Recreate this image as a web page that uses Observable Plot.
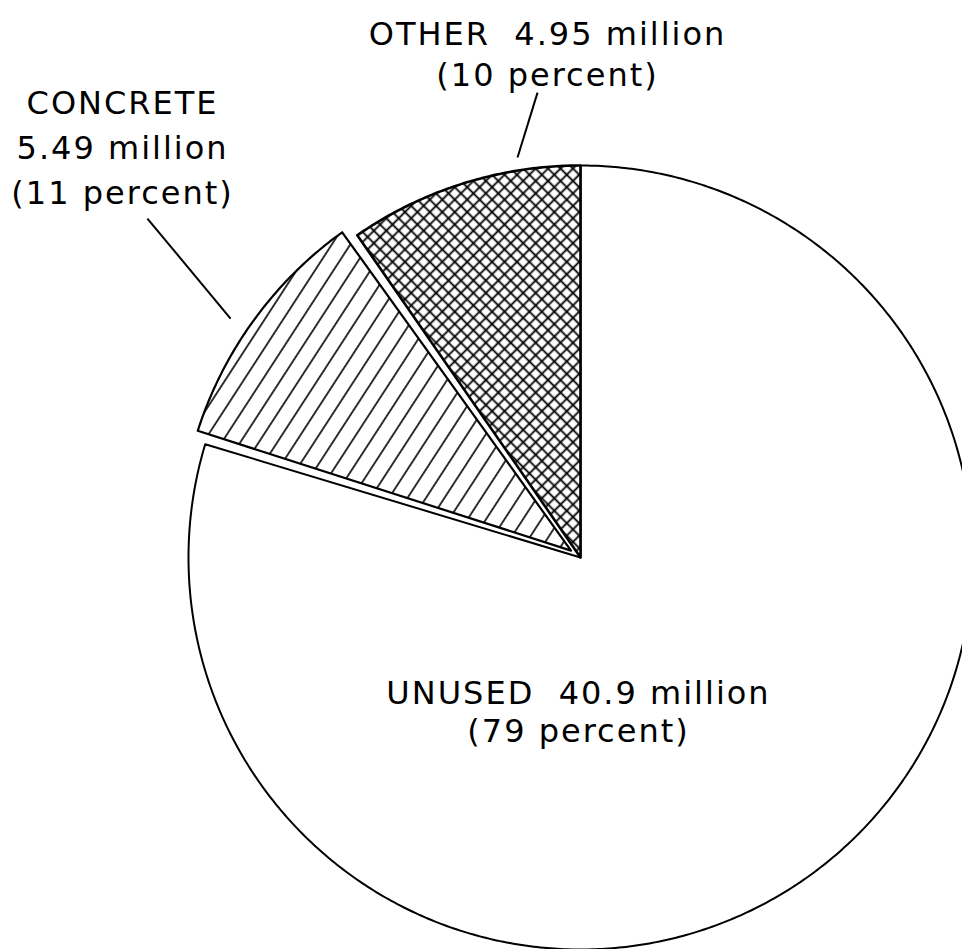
<!DOCTYPE html>
<html>
<head>
<meta charset="utf-8">
<script src="https://cdn.jsdelivr.net/npm/d3@7"></script>
<script src="https://cdn.jsdelivr.net/npm/@observablehq/plot@0.6"></script>
<style>
  html, body { margin: 0; padding: 0; background: #fff; }
  #chart svg text { letter-spacing: 2px; }
</style>
</head>
<body>
<div id="chart"></div>
<script>
// ---------------- DATA ----------------
const categories  = ["UNUSED", "CONCRETE", "OTHER"];
const values      = [40.9, 5.49, 4.95];          // million
const valueLabels = ["40.9 million", "5.49 million", "4.95 million"];
const percents    = [79, 11, 10];

// ---------------- LAYOUT ----------------
const W = 962, H = 949;
const CX = 580, CY = 557, R = 392;               // pie centre and radius (px)
const explode = [0, 0.03, 0];                    // outward offset, fraction of radius
const padDeg  = [0, 1.0, 0];                     // angle trimmed off each side
const fills   = ["white", "url(#hatch)", "url(#xhatch)"];
const strokeW = [2, 2.2, 2.6];
// label placement: angle (deg clockwise from north) and radius (fraction of R)
const labelPos = [
  {a: 180.75, r: 0.392, lh: 1.17, text: (i) => `${categories[i]}  ${valueLabels[i]}\n(${percents[i]} percent)`},
  {a: -47.96, r: 1.573, lh: 1.4,  text: (i) => `${categories[i]}\n${valueLabels[i]}\n(${percents[i]} percent)`},
  {a: -3.74,  r: 1.291, lh: 1.28, text: (i) => `${categories[i]}  ${valueLabels[i]}\n(${percents[i]} percent)`}
];
const leaders = [
  null,
  {a1: -51.95, r1: 1.403, a2: -55.67, r2: 1.081},
  {a1: -5.28,  r1: 1.191, a2: -8.95,  r2: 1.033}
];

// ---------------- GEOMETRY ----------------
const rad = (deg) => deg * Math.PI / 180;
const polar = (a, r) => ({x: r * Math.sin(rad(a)), y: r * Math.cos(rad(a))});
const total = d3.sum(values);
let acc = 0;
const slices = categories.map((c, i) => {
  const a0 = acc / total * 360;
  acc += values[i];
  const a1 = acc / total * 360;
  return {c, i, a0, a1};
});
function slicePolygon(s) {
  const mid = (s.a0 + s.a1) / 2;
  const off = polar(mid, explode[s.i]);
  const b0 = s.a0 + padDeg[s.i], b1 = s.a1 - padDeg[s.i];
  const pts = [{x: off.x, y: off.y}];
  const n = Math.max(8, Math.ceil((b1 - b0) / 0.5));
  for (let k = 0; k <= n; k++) {
    const p = polar(b0 + (b1 - b0) * k / n, 1);
    pts.push({x: p.x + off.x, y: p.y + off.y});
  }
  pts.push({x: off.x, y: off.y});
  return pts;
}

const marks = [];
slices.forEach((s) => {
  marks.push(Plot.line(slicePolygon(s), {
    x: "x", y: "y", curve: "linear",
    fill: fills[s.i], stroke: "black", strokeWidth: strokeW[s.i], strokeLinejoin: "round"
  }));
});
leaders.forEach((l) => {
  if (!l) return;
  const p1 = polar(l.a1, l.r1), p2 = polar(l.a2, l.r2);
  marks.push(Plot.link([{x1: p1.x, y1: p1.y, x2: p2.x, y2: p2.y}], {
    x1: "x1", y1: "y1", x2: "x2", y2: "y2", stroke: "black", strokeWidth: 2
  }));
});
labelPos.forEach((lp, i) => {
  const p = polar(lp.a, lp.r);
  marks.push(Plot.text([{x: p.x, y: p.y, t: lp.text(i)}], {
    x: "x", y: "y", text: "t", fontSize: 32, lineHeight: lp.lh,
    fontFamily: "DejaVu Sans", fontWeight: 400, fill: "black", textAnchor: "middle", lineAnchor: "middle"
  }));
});

const svg = Plot.plot({
  width: W, height: H,
  margin: 0,
  x: {domain: [-CX / R, (W - CX) / R], range: [0, W], axis: null},
  y: {domain: [-(H - CY) / R, CY / R], range: [H, 0], axis: null},
  style: {background: "white", color: "black"},
  marks
});

const defs = d3.select(svg).insert("defs", ":first-child");
const hs = 15.5;
const hatch = defs.append("pattern").attr("id", "hatch")
  .attr("patternUnits", "userSpaceOnUse").attr("width", hs).attr("height", hs)
  .attr("patternTransform", "rotate(33)");
hatch.append("rect").attr("width", hs).attr("height", hs).attr("fill", "white");
hatch.append("line").attr("x1", hs / 2).attr("y1", 0).attr("x2", hs / 2).attr("y2", hs)
  .attr("stroke", "black").attr("stroke-width", 1.6);
const xs = 8.8;
const xh = defs.append("pattern").attr("id", "xhatch")
  .attr("patternUnits", "userSpaceOnUse").attr("width", xs).attr("height", xs)
  .attr("patternTransform", "rotate(45)");
xh.append("rect").attr("width", xs).attr("height", xs).attr("fill", "white");
xh.append("line").attr("x1", xs / 2).attr("y1", 0).attr("x2", xs / 2).attr("y2", xs)
  .attr("stroke", "black").attr("stroke-width", 1.8);
xh.append("line").attr("x1", 0).attr("y1", xs / 2).attr("x2", xs).attr("y2", xs / 2)
  .attr("stroke", "black").attr("stroke-width", 1.8);

document.getElementById("chart").appendChild(svg);
</script>
</body>
</html>
